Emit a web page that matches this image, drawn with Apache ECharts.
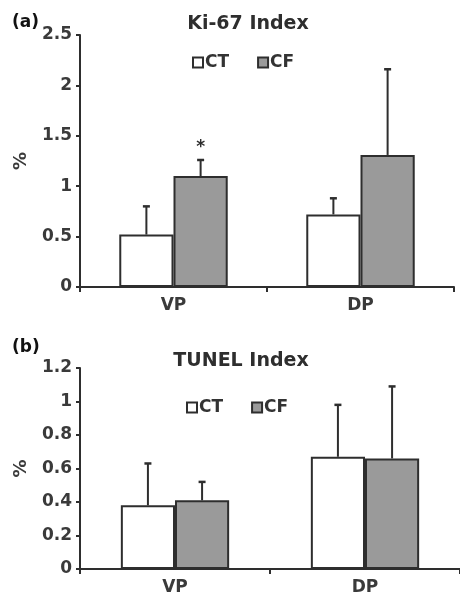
<!DOCTYPE html>
<html><head><meta charset="utf-8">
<script src="https://cdn.jsdelivr.net/npm/echarts@6/dist/echarts.min.js"></script>
<style>html,body{margin:0;padding:0;background:#fff}#c{width:460px;height:597px}</style>
</head><body><div id="c"></div>
<script>
// ---- data ----
const categories = ['VP', 'DP'];
const groupNames = ['CT', 'CF'];
// Ki-67 index (%)
const kiCT = [0.52, 0.72];
const kiCF = [1.10, 1.31];
const kiCTErrTop = [0.80, 0.88];
const kiCFErrTop = [1.26, 2.16];
const kiCTSig = ['', ''];
const kiCFSig = ['*', ''];
// TUNEL index (%)
const tunelCT = [0.38, 0.67];
const tunelCF = [0.41, 0.66];
const tunelCTErrTop = [0.63, 0.98];
const tunelCFErrTop = [0.52, 1.09];
const tunelCTSig = ['', ''];
const tunelCFSig = ['', ''];
// axes
const kiAxis = { min: 0, max: 2.5, interval: 0.5 };
const tunelAxis = { min: 0, max: 1.2, interval: 0.2 };
const titles = ['Ki-67 Index', 'TUNEL Index'];
const panelLabels = ['(a)', '(b)'];
const yName = '%';

// ---- styling ----
const FONT = 'DejaVu Sans';
const DARK = '#2e2e2e';
const fills = ['#ffffff', '#9a9a9a'];

function errRender(sign, gapRatio, sig) {
  return function (params, api) {
    const ci = api.value(0);
    const base = api.coord([ci, api.value(1)]);
    const top = api.coord([ci, api.value(2)]);
    const band = api.size([1, 0])[0];
    const bw = band * (1 - gapRatio) / 2;
    const x = base[0] + sign * bw / 2;
    const children = [
      { type: 'line', shape: { x1: x, y1: base[1], x2: x, y2: top[1] }, style: { stroke: DARK, lineWidth: 2 } },
      { type: 'line', shape: { x1: x - 3.5, y1: top[1], x2: x + 3.5, y2: top[1] }, style: { stroke: DARK, lineWidth: 2.5 } }
    ];
    const s = sig[params.dataIndex];
    if (s) {
      children.push({ type: 'text', x: x, y: top[1] - 4, style: { text: s, font: 'bold 17px "' + FONT + '"', fill: DARK, align: 'center', verticalAlign: 'bottom' } });
    }
    return { type: 'group', children: children };
  };
}

function errData(vals, tops) {
  return vals.map((v, i) => [i, v, tops[i]]);
}

const gapA = 0.42, gapB = 0.43;

const axisText = { fontFamily: FONT, fontWeight: 'bold', fontSize: 17, color: '#3a3a3a' };

function xAx(gridIndex) {
  return {
    type: 'category', gridIndex: gridIndex, data: categories,
    axisLine: { lineStyle: { color: DARK, width: 2 } },
    axisTick: { show: true, length: 5, lineStyle: { color: DARK, width: 2 } },
    axisLabel: Object.assign({ margin: 10 }, axisText),
    splitLine: { show: false }
  };
}
function yAx(gridIndex, ax) {
  return {
    type: 'value', gridIndex: gridIndex, min: ax.min, max: ax.max, interval: ax.interval,
    name: yName, nameLocation: 'middle', nameRotate: 90, nameGap: 50,
    nameTextStyle: { fontFamily: FONT, fontWeight: 'bold', fontSize: 18, color: '#3a3a3a' },
    axisLine: { show: true, lineStyle: { color: DARK, width: 2 } },
    axisTick: { show: true, length: 4, lineStyle: { color: DARK, width: 2 } },
    axisLabel: Object.assign({ margin: 8 }, axisText),
    splitLine: { show: false }
  };
}
function barSeries(name, data, idx, fill, gap) {
  return {
    type: 'bar', name: name, data: data, xAxisIndex: idx, yAxisIndex: idx,
    barGap: '0%', barCategoryGap: (gap * 100) + '%',
    itemStyle: { color: fill, borderColor: DARK, borderWidth: 2 },
    emphasis: { disabled: true }, z: 2
  };
}
function errSeries(name, vals, tops, idx, sign, gap, sig) {
  return {
    type: 'custom', name: name + ' err', xAxisIndex: idx, yAxisIndex: idx,
    data: errData(vals, tops), renderItem: errRender(sign, gap, sig), z: 3, silent: true
  };
}

const option = {
  animation: false,
  backgroundColor: '#fff',
  title: [
    { text: titles[0], left: 243, top: 10, textAlign: 'center', textStyle: { fontFamily: FONT, fontWeight: 'bold', fontSize: 19, color: DARK } },
    { text: titles[1], left: 236, top: 347, textAlign: 'center', textStyle: { fontFamily: FONT, fontWeight: 'bold', fontSize: 19, color: DARK } },
    { text: panelLabels[0], left: 7, top: 9, textStyle: { fontFamily: FONT, fontWeight: 'bold', fontSize: 17, color: '#111' } },
    { text: panelLabels[1], left: 7, top: 334, textStyle: { fontFamily: FONT, fontWeight: 'bold', fontSize: 17, color: '#111' } }
  ],
  legend: [
    { data: groupNames, left: 187, top: 49, itemWidth: 10, itemHeight: 10, itemGap: 28, icon: 'rect',
      textStyle: { fontFamily: FONT, fontWeight: 'bold', fontSize: 17, color: '#333', padding: [0, 0, 0, -3] }, selectedMode: false },
    { data: groupNames, left: 181, top: 394, itemWidth: 10, itemHeight: 10, itemGap: 28, icon: 'rect',
      textStyle: { fontFamily: FONT, fontWeight: 'bold', fontSize: 17, color: '#333', padding: [0, 0, 0, -3] }, selectedMode: false }
  ],
  grid: [
    { left: 80, top: 35, width: 374, height: 252 },
    { left: 80, top: 368, width: 383, height: 201 }
  ],
  xAxis: [xAx(0), xAx(1)],
  yAxis: [yAx(0, kiAxis), yAx(1, tunelAxis)],
  series: [
    barSeries('CT', kiCT, 0, fills[0], gapA),
    barSeries('CF', kiCF, 0, fills[1], gapA),
    errSeries('CT', kiCT, kiCTErrTop, 0, -1, gapA, kiCTSig),
    errSeries('CF', kiCF, kiCFErrTop, 0, 1, gapA, kiCFSig),
    barSeries('CT', tunelCT, 1, fills[0], gapB),
    barSeries('CF', tunelCF, 1, fills[1], gapB),
    errSeries('CT', tunelCT, tunelCTErrTop, 1, -1, gapB, tunelCTSig),
    errSeries('CF', tunelCF, tunelCFErrTop, 1, 1, gapB, tunelCFSig)
  ]
};
const chart = echarts.init(document.getElementById('c'), null, { renderer: 'canvas' });
chart.setOption(option);
</script></body></html>
